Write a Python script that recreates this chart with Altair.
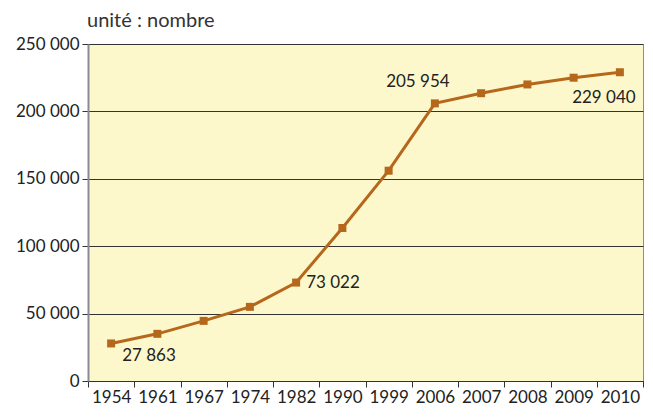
import altair as alt
import pandas as pd

years = ["1954", "1961", "1967", "1974", "1982", "1990", "1999", "2006", "2007", "2008", "2009", "2010"]
values = [27863, 35000, 44600, 55000, 73022, 113500, 156000, 205954, 213500, 220000, 225000, 229040]

label_years = ["1954", "1982", "2006", "2010"]
label_texts = ["27 863", "73 022", "205 954", "229 040"]

df = pd.DataFrame({"year": years, "value": values})
val_map = dict(zip(years, values))
lab = pd.DataFrame({"year": label_years, "value": [val_map[y] for y in label_years], "text": label_texts})

FONT = "Lato"
COLOR = "#B5671C"
FS = 17

x = alt.X("year:O", sort=years, bandPosition=0.5,
          scale=alt.Scale(type="band", paddingInner=0, paddingOuter=0),
          axis=alt.Axis(title=None, labelAngle=0, tickBand="extent", labelFontSize=FS,
                        labelFont=FONT, labelColor="#222", domainColor="#333", tickColor="#333",
                        tickSize=6, labelPadding=2, grid=False))
y = alt.Y("value:Q", scale=alt.Scale(domain=[0, 250000]),
          axis=alt.Axis(title=None, values=[0, 50000, 100000, 150000, 200000, 250000],
                        labelExpr="replace(format(datum.value, ','), /,/g, ' ')",
                        labelFontSize=FS, labelFont=FONT, labelColor="#222",
                        domainColor="#8a8a99", domainWidth=2, tickColor="#333", tickSize=6,
                        gridColor="#333", gridWidth=1, gridOpacity=1, labelPadding=3))

line = alt.Chart(df).mark_line(color=COLOR, strokeWidth=3).encode(x=x, y=y)
pts = alt.Chart(df).mark_point(shape="square", filled=True, size=64, color=COLOR, opacity=1).encode(x=x, y=y)

offsets = {"1954": ("left", 11, 13), "1982": ("left", 10, 0), "2006": ("center", -17, -21), "2010": ("center", -16, 26)}
texts = []
for yr in label_years:
    al, dx, dy = offsets[yr]
    texts.append(
        alt.Chart(lab).transform_filter(alt.datum.year == yr)
        .mark_text(align=al, baseline="middle", dx=dx, dy=dy, fontSize=FS, font=FONT, color="#222")
        .encode(x=x, y=y, text="text:N")
    )

chart = alt.layer(line, pts, *texts).properties(
    width=555, height=337,
    title=alt.TitleParams("unité : nombre", anchor="start", frame="group", fontSize=20, font=FONT,
                          fontWeight="normal", color="#333", offset=4, dx=-1),
    autosize=alt.AutoSizeParams(type="none"),
    padding={"left": 80, "top": 36, "right": 2, "bottom": 28},
).configure_view(fill="#FDF8CB", stroke="#8a8a99", strokeWidth=1)

chart.save("out.html", embed_options={"renderer": "svg", "actions": False})
